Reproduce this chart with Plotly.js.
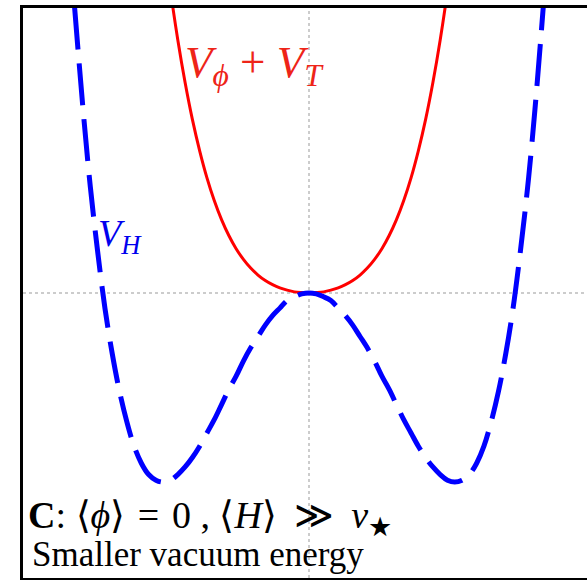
<!DOCTYPE html>
<html>
<head>
<meta charset="utf-8">
<script src="https://cdn.plot.ly/plotly-3.0.1.min.js"></script>
<style>
html,body{margin:0;padding:0;overflow:hidden;background:#fff;}
#chart{width:600px;height:580px;}
</style>
</head>
<body>
<div id="chart"></div>
<script>
// V_H (dashed blue double well)
var vhX = [-1.608,-1.55,-1.5,-1.45,-1.4,-1.35,-1.3,-1.25,-1.2,-1.15,-1.1,-1.05,-1.0,-0.95,-0.9,-0.85,-0.8,-0.75,-0.7,-0.65,-0.6,-0.55,-0.5,-0.45,-0.4,-0.35,-0.3,-0.25,-0.2,-0.15,-0.1,-0.05,0,
            0.05,0.1,0.15,0.2,0.25,0.3,0.35,0.4,0.45,0.5,0.55,0.6,0.65,0.7,0.75,0.8,0.85,0.9,0.95,1.0,1.05,1.1,1.15,1.2,1.25,1.3,1.35,1.4,1.45,1.5,1.55,1.62];
var vhY = [1.51,0.97,0.56,0.22,-0.08,-0.32,-0.52,-0.68,-0.81,-0.90,-0.96,-0.99,-1.00,-0.99,-0.96,-0.92,-0.87,-0.81,-0.74,-0.67,-0.59,-0.51,-0.44,-0.36,-0.29,-0.23,-0.17,-0.12,-0.08,-0.04,-0.02,-0.005,0,
            -0.005,-0.02,-0.04,-0.08,-0.12,-0.17,-0.23,-0.29,-0.36,-0.44,-0.51,-0.59,-0.67,-0.74,-0.81,-0.87,-0.92,-0.96,-0.99,-1.00,-0.99,-0.96,-0.90,-0.81,-0.68,-0.52,-0.32,-0.08,0.22,0.56,0.97,1.64];

// V_phi + V_T (solid red bowl)
var vpX = [-1.0,-0.95,-0.9,-0.85,-0.8,-0.75,-0.7,-0.65,-0.6,-0.55,-0.5,-0.45,-0.4,-0.35,-0.3,-0.25,-0.2,-0.15,-0.1,-0.05,0,
            0.05,0.1,0.15,0.2,0.25,0.3,0.35,0.4,0.45,0.5,0.55,0.6,0.65,0.7,0.75,0.8,0.85,0.9,0.95,1.0];
var vpY = [1.894,1.597,1.338,1.113,0.918,0.752,0.609,0.489,0.388,0.304,0.234,0.178,0.132,0.095,0.066,0.044,0.027,0.015,0.006,0.002,0,
            0.002,0.006,0.015,0.027,0.044,0.066,0.095,0.132,0.178,0.234,0.304,0.388,0.489,0.609,0.752,0.918,1.113,1.338,1.597,1.894];

var xRange = [-1.962, 1.962];
var yRange = [-1.507, 1.507];

var traces = [
  {x: vpX, y: vpY, type: 'scatter', mode: 'lines',
   line: {color: '#ff0000', width: 3, shape: 'spline'}, hoverinfo: 'skip'},
  {x: vhX, y: vhY, type: 'scatter', mode: 'lines',
   line: {color: '#0000ff', width: 5, shape: 'spline', dash: '42px,14px'}, hoverinfo: 'skip'}
];

var serif = "'Liberation Serif', 'Times New Roman', serif";
var th = '\u2009';
var hr = '\u200A';

var layout = {
  width: 600, height: 580,
  margin: {l: 22.6, r: 4.6, t: 8, b: 2.3},
  paper_bgcolor: '#fff', plot_bgcolor: '#fff',
  showlegend: false,
  xaxis: {range: xRange, showgrid: false, zeroline: false, showticklabels: false, ticks: '',
          showline: true, mirror: true, linecolor: '#000', linewidth: 2.6, fixedrange: true},
  yaxis: {range: yRange, showgrid: false, zeroline: false, showticklabels: false, ticks: '',
          showline: true, mirror: true, linecolor: '#000', linewidth: 2.6, fixedrange: true},
  shapes: [
    {type: 'line', xref: 'x', yref: 'paper', x0: 0, x1: 0, y0: 0, y1: 1, layer: 'below',
     line: {color: '#999999', width: 1, dash: 'dot'}},
    {type: 'line', xref: 'paper', yref: 'y', x0: 0, x1: 1, y0: 0, y1: 0, layer: 'below',
     line: {color: '#999999', width: 1, dash: 'dot'}}
  ],
  annotations: [
    {xref: 'paper', yref: 'paper', x: 0.279, y: 0.90, xanchor: 'left', yanchor: 'middle', showarrow: false,
     text: '<i>V</i><sub><i>ϕ</i></sub> + <i>V</i><sub><i>T</i></sub>',
     font: {family: serif, size: 45, color: '#ee2418'}},
    {xref: 'paper', yref: 'paper', x: 0.128, y: 0.60, xanchor: 'left', yanchor: 'middle', showarrow: false,
     text: '<i>V</i><sub><i>H</i></sub>',
     font: {family: serif, size: 38, color: '#0000ee'}},
    {xref: 'paper', yref: 'paper', x: 0.006, y: 0.105, xanchor: 'left', yanchor: 'middle', showarrow: false,
     text: '<b>C</b>: ⟨<i>ϕ</i>⟩ ' + hr + '= ' + hr + '0 , ⟨<i>H</i>⟩ ' + th + '≫ ' + th + '<i>v</i><sub>★</sub>',
     font: {family: serif, size: 38, color: '#000'}},
    {xref: 'paper', yref: 'paper', x: 0.012, y: 0.042, xanchor: 'left', yanchor: 'middle', showarrow: false,
     text: 'Smaller vacuum energy',
     font: {family: serif, size: 35, color: '#000'}}
  ]
};

Plotly.newPlot('chart', traces, layout, {displayModeBar: false, staticPlot: true});
</script>
</body>
</html>
